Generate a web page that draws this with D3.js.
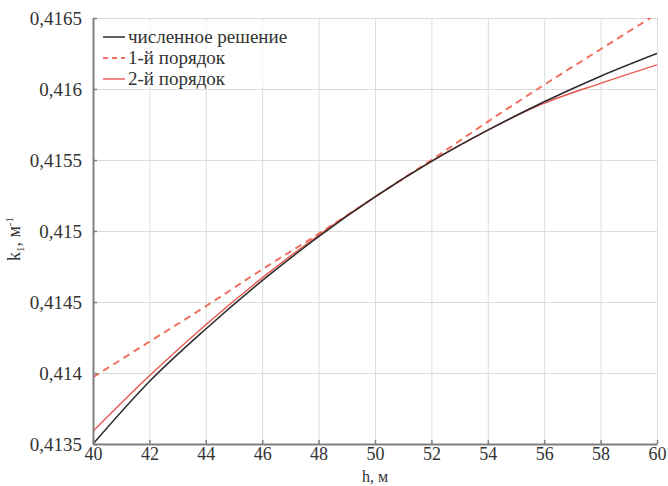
<!DOCTYPE html>
<html>
<head>
<meta charset="utf-8">
<script src="https://cdn.jsdelivr.net/npm/d3@7/dist/d3.min.js"></script>
<style>
  body { margin: 0; background: #fff; }
  svg text { font-family: "Liberation Serif", "DejaVu Serif", serif; fill: #333; }
</style>
</head>
<body>
<svg id="chart" width="668" height="486"></svg>
<script>
// heights, m
var hValues = [40, 42, 44, 46, 48, 50, 52, 54, 56, 58, 60];
// numerical solution
var numeric = [0.41350, 0.41394, 0.41431, 0.41465, 0.41496, 0.41524, 0.41549, 0.41571, 0.41591, 0.41609, 0.41625];
// first order approximation
var firstOrder = [0.41397, 0.41422, 0.41447, 0.41473, 0.41498, 0.41524, 0.41550, 0.41577, 0.41603, 0.41628, 0.41653];
// second order approximation
var secondOrder = [0.41359, 0.41398, 0.41434, 0.41467, 0.41497, 0.41524, 0.41549, 0.41571, 0.41590, 0.41604, 0.41617];

var xTicks = [40, 42, 44, 46, 48, 50, 52, 54, 56, 58, 60];
var yTicks = [0.4135, 0.414, 0.4145, 0.415, 0.4155, 0.416, 0.4165];
var seriesNames = ["численное решение", "1-й порядок", "2-й порядок"];

var margin = { top: 18, right: 11, bottom: 42, left: 93 };
var svg = d3.select("#chart");
var width = +svg.attr("width") - margin.left - margin.right;
var height = +svg.attr("height") - margin.top - margin.bottom;
var g = svg.append("g").attr("transform", "translate(" + margin.left + "," + margin.top + ")");

var x = d3.scaleLinear().domain([40, 60]).range([0, width]);
var y = d3.scaleLinear().domain([0.4135, 0.4165]).range([height, 0]);

var ru = d3.formatLocale({ decimal: ",", thousands: " ", grouping: [3], currency: ["", ""] });
var yFmt = ru.format(".4~f");

// grid
g.append("g")
    .attr("class", "grid")
    .attr("transform", "translate(0," + height + ")")
    .call(d3.axisBottom(x).tickValues(xTicks).tickSize(-height).tickFormat(""))
    .call(function (s) { s.select(".domain").remove(); s.selectAll("line").attr("stroke", "#dcdcdc"); });
g.append("g")
    .attr("class", "grid")
    .call(d3.axisLeft(y).tickValues(yTicks).tickSize(-width).tickFormat(""))
    .call(function (s) { s.select(".domain").remove(); s.selectAll("line").attr("stroke", "#dcdcdc"); });

// legend background
g.append("rect")
    .attr("x", 2)
    .attr("y", 3)
    .attr("width", 215)
    .attr("height", 66)
    .attr("fill", "#fff")
    .attr("fill-opacity", 0.75);

// curves
g.append("clipPath").attr("id", "clip")
    .append("rect").attr("width", width).attr("height", height);

var line = d3.line()
    .x(function (d) { return x(d[0]); })
    .y(function (d) { return y(d[1]); })
    .curve(d3.curveMonotoneX);

function pairs(vals) { return hValues.map(function (h, i) { return [h, vals[i]]; }); }

var curves = g.append("g").attr("clip-path", "url(#clip)");
curves.append("path")
    .datum(pairs(firstOrder))
    .attr("fill", "none")
    .attr("stroke", "#f0715f")
    .attr("stroke-width", 2)
    .attr("stroke-dasharray", "7,5")
    .attr("d", line);
curves.append("path")
    .datum(pairs(secondOrder))
    .attr("fill", "none")
    .attr("stroke", "#e8574d")
    .attr("stroke-width", 1.4)
    .attr("d", line);
curves.append("path")
    .datum(pairs(numeric))
    .attr("fill", "none")
    .attr("stroke", "#2a2a2a")
    .attr("stroke-width", 1.5)
    .attr("d", line);

// axes
var xAxis = g.append("g")
    .attr("transform", "translate(0," + height + ")")
    .call(d3.axisBottom(x).tickValues(xTicks).tickSizeInner(-4).tickSizeOuter(0).tickPadding(3).tickFormat(d3.format("d")));
var yAxis = g.append("g")
    .call(d3.axisLeft(y).tickValues(yTicks).tickSizeInner(-4).tickSizeOuter(0).tickPadding(11).tickFormat(yFmt));
[xAxis, yAxis].forEach(function (a) {
    a.select(".domain").attr("stroke", "#808080").attr("stroke-width", 2);
    a.selectAll(".tick line").attr("stroke", "#808080").attr("stroke-width", 1.5);
    a.selectAll(".tick text").attr("font-size", 19).attr("fill", "#333")
        .attr("font-family", "Liberation Serif, serif");
});
xAxis.selectAll(".tick text").attr("font-size", 18);

// axis titles
svg.append("text")
    .attr("x", margin.left + x(50))
    .attr("y", 482)
    .attr("text-anchor", "middle")
    .attr("font-size", 16)
    .text("h, м");

var yTitle = svg.append("text")
    .attr("transform", "translate(20,239) rotate(-90)")
    .attr("text-anchor", "middle")
    .attr("font-size", 18);
yTitle.append("tspan").text("k");
yTitle.append("tspan").attr("font-size", 11).attr("dy", 4).text("1");
yTitle.append("tspan").attr("dy", -4).text(", м");
yTitle.append("tspan").attr("font-size", 11).attr("dy", -7).text("-1");

// legend
var legendStyles = [
    { color: "#2a2a2a", dash: null, width: 1.5 },
    { color: "#f0715f", dash: "5,4", width: 2 },
    { color: "#e8574d", dash: null, width: 1.4 }
];
var legend = g.append("g")
    .selectAll("g")
    .data(seriesNames)
    .enter().append("g")
    .attr("transform", function (d, i) { return "translate(10," + (19 + i * 21) + ")"; });
legend.append("line")
    .attr("x1", 0)
    .attr("x2", 22)
    .attr("stroke", function (d, i) { return legendStyles[i].color; })
    .attr("stroke-width", function (d, i) { return legendStyles[i].width; })
    .attr("stroke-dasharray", function (d, i) { return legendStyles[i].dash; });
legend.append("text")
    .attr("x", 25)
    .attr("dy", "0.32em")
    .attr("font-size", 19)
    .text(function (d) { return d; });
</script>
</body>
</html>
